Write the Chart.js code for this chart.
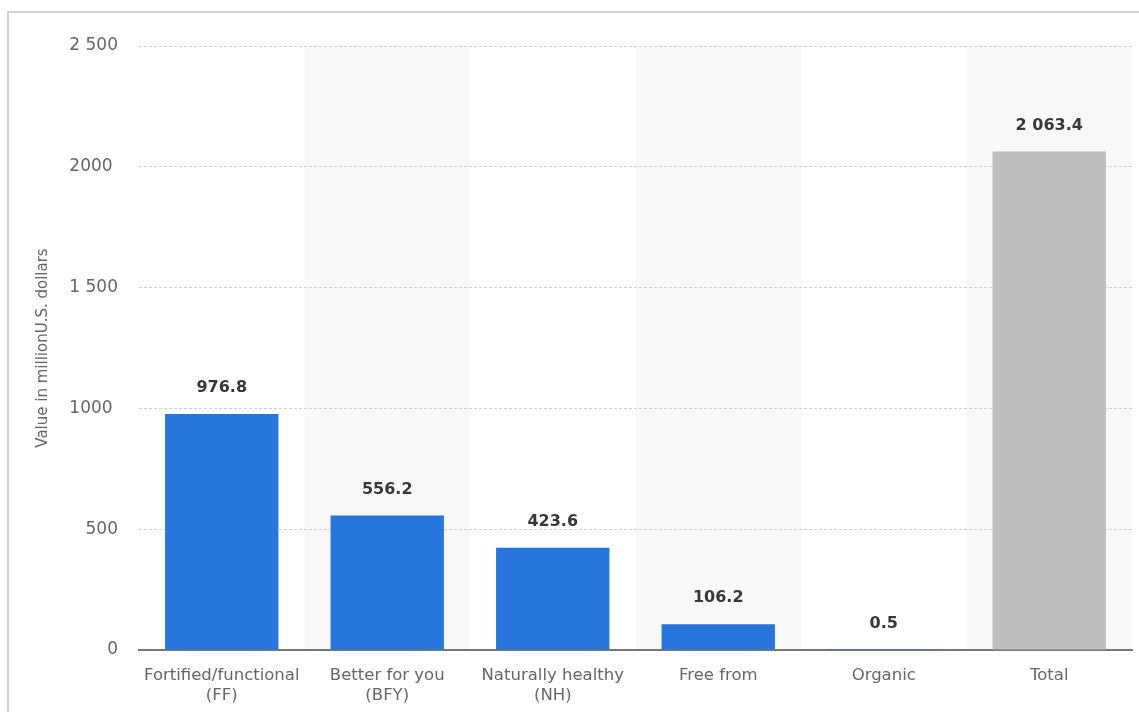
<!DOCTYPE html>
<html>
<head>
<meta charset="utf-8">
<script src="https://cdn.jsdelivr.net/npm/chart.js@4/dist/chart.umd.min.js"></script>
<style>
    html, body { margin: 0; padding: 0; background: #fff; }
    #wrap { position: absolute; left: 0; top: 0; width: 1139px; height: 712px; }
    #frame {
        position: absolute; left: 7px; top: 11px; right: -10px; bottom: -10px;
        border-left: 2px solid #d2d2d2; border-top: 2px solid #d2d2d2;
        pointer-events: none;
    }
</style>
</head>
<body>
<div id="wrap">
    <canvas id="chart" width="1139" height="712"></canvas>
    <div id="frame"></div>
</div>
<script>
const categories = [
    ['Fortified/functional', '(FF)'],
    ['Better for you', '(BFY)'],
    ['Naturally healthy', '(NH)'],
    'Free from',
    'Organic',
    'Total'
];
const values = [976.8, 556.2, 423.6, 106.2, 0.5, 2063.4];
const valueLabels = ['976.8', '556.2', '423.6', '106.2', '0.5', '2 063.4'];
const barColors = ['#2876dc', '#2876dc', '#2876dc', '#2876dc', '#2876dc', '#bebebe'];
const yTicks = [0, 500, 1000, 1500, 2000, 2500];
const yTickLabels = ['0', '500', '1000\u00a0', '1 500', '2000\u00a0', '2 500'];

const FONT = '"DejaVu Sans", Verdana, sans-serif';

// alternating light column bands
const bandPlugin = {
    id: 'bands',
    beforeDraw(chart) {
        const { ctx, chartArea, scales } = chart;
        const x = scales.x;
        ctx.save();
        ctx.fillStyle = '#f8f8f8';
        for (let i = 1; i < categories.length; i += 2) {
            const w = x.width / categories.length;
            const left = x.getPixelForValue(i) - w / 2;
            ctx.fillRect(left, chartArea.top, w, chartArea.bottom - chartArea.top);
        }
        ctx.restore();
    }
};

// value labels above bars
const labelPlugin = {
    id: 'valueLabels',
    afterDatasetsDraw(chart) {
        const { ctx } = chart;
        const meta = chart.getDatasetMeta(0);
        ctx.save();
        ctx.font = 'bold 16px ' + FONT;
        ctx.fillStyle = '#383838';
        ctx.textAlign = 'center';
        ctx.textBaseline = 'middle';
        meta.data.forEach((bar, i) => {
            ctx.fillText(valueLabels[i], bar.x, bar.y - 26);
        });
        ctx.restore();
    }
};

new Chart(document.getElementById('chart'), {
    type: 'bar',
    data: {
        labels: categories,
        datasets: [{
            data: values,
            backgroundColor: barColors,
            borderWidth: 0,
            barPercentage: 0.685,
            categoryPercentage: 1
        }]
    },
    options: {
        responsive: false,
        animation: false,
        layout: { padding: { top: 46, right: 7, left: 0, bottom: 0 } },
        plugins: {
            legend: { display: false },
            tooltip: { enabled: false }
        },
        scales: {
            x: {
                grid: { display: false, drawTicks: false },
                border: { display: true, color: '#777', width: 2 },
                ticks: {
                    color: '#666',
                    font: { family: FONT, size: 16.5 },
                    padding: 16,
                    maxRotation: 0,
                    autoSkip: false
                },
                afterFit(scale) { scale.height = 62; }
            },
            y: {
                min: 0,
                max: 2500,
                afterBuildTicks(scale) {
                    scale.ticks = yTicks.map(v => ({ value: v }));
                },
                grid: { color: '#d0d0d0', lineWidth: 1, drawTicks: false },
                border: { display: false, dash: [3, 2] },
                ticks: {
                    color: '#666',
                    font: { family: FONT, size: 17 },
                    padding: 21,
                    callback: (v) => yTickLabels[yTicks.indexOf(v)]
                },
                title: {
                    display: true,
                    text: 'Value in millionU.S. dollars',
                    color: '#666',
                    font: { family: FONT, size: 15 },
                    padding: { top: 34, bottom: 0 }
                },
                afterFit(scale) { scale.width = 139; }
            }
        }
    },
    plugins: [bandPlugin, labelPlugin]
});
</script>
</body>
</html>
